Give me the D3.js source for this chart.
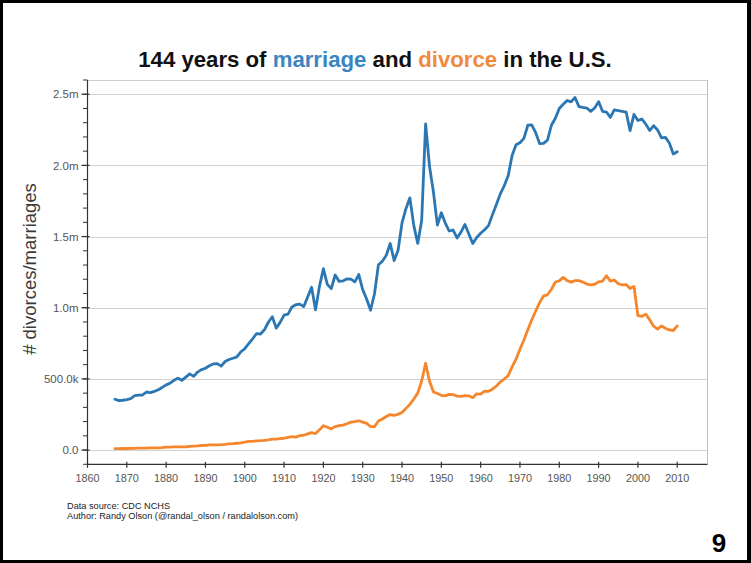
<!DOCTYPE html>
<html>
<head>
<meta charset="utf-8">
<script src="https://cdn.jsdelivr.net/npm/d3@7"></script>
<style>
  html, body { margin: 0; padding: 0; background: #fff; }
  svg { display: block; }
  text { font-family: "Liberation Sans", Arial, Helvetica, sans-serif; }
</style>
</head>
<body>
<svg id="chart" width="751" height="563"></svg>
<script>
// ---- data ----
const years = [
  1867,1868,1869,1870,1871,1872,1873,1874,1875,1876,
  1877,1878,1879,1880,1881,1882,1883,1884,1885,1886,
  1887,1888,1889,1890,1891,1892,1893,1894,1895,1896,
  1897,1898,1899,1900,1901,1902,1903,1904,1905,1906,
  1907,1908,1909,1910,1911,1912,1913,1914,1915,1916,
  1917,1918,1919,1920,1921,1922,1923,1924,1925,1926,
  1927,1928,1929,1930,1931,1932,1933,1934,1935,1936,
  1937,1938,1939,1940,1941,1942,1943,1944,1945,1946,
  1947,1948,1949,1950,1951,1952,1953,1954,1955,1956,
  1957,1958,1959,1960,1961,1962,1963,1964,1965,1966,
  1967,1968,1969,1970,1971,1972,1973,1974,1975,1976,
  1977,1978,1979,1980,1981,1982,1983,1984,1985,1986,
  1987,1988,1989,1990,1991,1992,1993,1994,1995,1996,
  1997,1998,1999,2000,2001,2002,2003,2004,2005,2006,
  2007,2008,2009,2010
];
// marriages, thousands
const marriages = [
  357,347,350,355,362,382,386,387,408,404,
  412,424,440,458,470,490,505,490,512,535,
  518,548,565,575,592,605,607,590,622,636,
  645,655,690,712,748,782,818,815,845,898,
  937,857,897,948,955,1005,1021,1025,1008,1075,
  1144,985,1150,1274,1164,1134,1230,1185,1188,1203,
  1201,1182,1233,1127,1061,982,1098,1302,1327,1369,
  1451,1331,1404,1596,1696,1772,1577,1452,1613,2291,
  1992,1811,1580,1667,1595,1539,1546,1490,1531,1585,
  1518,1451,1494,1523,1548,1577,1654,1725,1800,1857,
  1927,2069,2145,2159,2190,2282,2284,2230,2153,2155,
  2178,2282,2331,2400,2430,2456,2446,2477,2413,2407,
  2403,2380,2403,2448,2380,2375,2338,2390,2385,2380,
  2375,2244,2358,2315,2326,2290,2245,2279,2249,2193,
  2197,2157,2080,2096
];
// divorces, thousands
const divorces = [
  10,10,11,11,12,12,13,14,14,15,
  16,16,17,20,21,22,23,23,23,26,
  28,29,32,33,36,37,37,38,40,43,
  45,48,51,56,61,61,65,66,68,72,
  77,77,80,83,89,94,91,101,104,114,
  122,116,142,171,160,149,165,171,175,185,
  196,200,206,196,188,164,165,204,218,236,
  249,244,251,264,293,321,359,400,485,610,
  483,408,397,385,381,392,390,379,377,382,
  381,368,395,393,414,413,428,450,479,499,
  523,584,639,708,773,845,915,977,1036,1083,
  1091,1130,1181,1189,1213,1190,1180,1190,1190,1180,
  1166,1160,1165,1182,1187,1225,1187,1195,1169,1160,
  1163,1135,1150,944,940,955,915,870,850,872,
  856,844,840,872
];
const xTickValues = [1860,1870,1880,1890,1900,1910,1920,1930,1940,1950,1960,1970,1980,1990,2000,2010];
const yTickValues = [0, 500000, 1000000, 1500000, 2000000, 2500000];
const yTickLabels = ["0.0", "500.0k", "1.0m", "1.5m", "2.0m", "2.5m"];

// ---- layout ----
const W = 751, H = 563;
const pLeft = 87.5, pRight = 707.5, pTop = 80, pBottom = 464.3;
const blue = "#2b77b4", orange = "#f6862b";

const svg = d3.select("#chart");

// outer black frame
svg.append("rect").attr("x", 0).attr("y", 0).attr("width", W).attr("height", H).attr("fill", "#000");
svg.append("rect").attr("x", 3).attr("y", 3).attr("width", 744).attr("height", 557).attr("fill", "#fff");

const x = d3.scaleLinear().domain([1860, 2017.7]).range([pLeft, pRight]);
const y = d3.scaleLinear().domain([-100000, 2600000]).range([pBottom, pTop]);

// grid lines
const grid = svg.append("g");
grid.selectAll("line.h").data(yTickValues).join("line")
  .attr("x1", pLeft).attr("x2", pRight)
  .attr("y1", d => Math.round(y(d)) + 0.5).attr("y2", d => Math.round(y(d)) + 0.5)
  .attr("stroke", "#d2d2d2").attr("stroke-width", 1);
grid.append("line").attr("x1", pLeft).attr("x2", pRight).attr("y1", pTop + 0.5).attr("y2", pTop + 0.5)
  .attr("stroke", "#cfcfcf");
grid.append("line").attr("x1", pRight).attr("x2", pRight).attr("y1", pTop).attr("y2", pBottom)
  .attr("stroke", "#c4c4c4");

// lines
const line = (vals) => d3.line()
  .x((d, i) => x(years[i]))
  .y(d => y(d * 1000))(vals);

svg.append("path").attr("d", line(divorces))
  .attr("fill", "none").attr("stroke", orange).attr("stroke-width", 2.8)
  .attr("stroke-linejoin", "round").attr("stroke-linecap", "round");
svg.append("path").attr("d", line(marriages))
  .attr("fill", "none").attr("stroke", blue).attr("stroke-width", 2.8)
  .attr("stroke-linejoin", "round").attr("stroke-linecap", "round");

// y axis
const axisColor = "#333";
const yAxis = svg.append("g");
yAxis.append("line").attr("x1", pLeft).attr("x2", pLeft).attr("y1", pTop).attr("y2", pBottom)
  .attr("stroke", axisColor).attr("stroke-width", 1.2);
const minorY = d3.range(-100000, 2600001, 100000);
yAxis.selectAll("line.minor").data(minorY).join("line")
  .attr("x1", pLeft - 4.5).attr("x2", pLeft)
  .attr("y1", d => y(d)).attr("y2", d => y(d))
  .attr("stroke", axisColor).attr("stroke-width", 1);
yAxis.selectAll("line.major").data(yTickValues).join("line")
  .attr("x1", pLeft - 6).attr("x2", pLeft + 2)
  .attr("y1", d => y(d)).attr("y2", d => y(d))
  .attr("stroke", axisColor).attr("stroke-width", 1.2);
yAxis.selectAll("text").data(yTickValues).join("text")
  .attr("x", pLeft - 9).attr("y", d => y(d)).attr("dy", "0.36em")
  .attr("text-anchor", "end").attr("font-size", 11.5).attr("fill", "#555")
  .text((d, i) => yTickLabels[i]);

// x axis
const xAxis = svg.append("g");
xAxis.append("line").attr("x1", pLeft).attr("x2", pRight).attr("y1", pBottom).attr("y2", pBottom)
  .attr("stroke", axisColor).attr("stroke-width", 1.2);
xAxis.selectAll("line.tick").data(xTickValues).join("line")
  .attr("x1", d => x(d)).attr("x2", d => x(d))
  .attr("y1", pBottom - 2.5).attr("y2", pBottom + 3.5)
  .attr("stroke", axisColor).attr("stroke-width", 1.2);
xAxis.selectAll("text").data(xTickValues).join("text")
  .attr("x", d => x(d)).attr("y", 482)
  .attr("text-anchor", "middle").attr("font-size", 10.8).attr("fill", "#555")
  .text(d => d);

// y label
svg.append("text")
  .attr("transform", "translate(35.5,269) rotate(-90)")
  .attr("text-anchor", "middle").attr("font-size", 18.5).attr("fill", "#3a3a3a")
  .text("# divorces/marriages");

// title
const title = svg.append("text").attr("x", 375).attr("y", 67)
  .attr("text-anchor", "middle").attr("font-size", 22.2).attr("font-weight", "bold").attr("fill", "#111");
title.append("tspan").text("144 years of ");
title.append("tspan").attr("fill", "#3a86c2").text("marriage");
title.append("tspan").text(" and ");
title.append("tspan").attr("fill", "#f28a3c").text("divorce");
title.append("tspan").text(" in the U.S.");

// footer
svg.append("text").attr("x", 67).attr("y", 509).attr("font-size", 9.2).attr("fill", "#222")
  .text("Data source: CDC NCHS");
svg.append("text").attr("x", 67).attr("y", 518.8).attr("font-size", 9.2).attr("fill", "#222")
  .text("Author: Randy Olson (@randal_olson / randalolson.com)");

// page number
svg.append("text").attr("x", 719).attr("y", 552).attr("text-anchor", "middle")
  .attr("font-size", 26).attr("font-weight", "bold").attr("fill", "#000").text("9");
</script>
</body>
</html>
